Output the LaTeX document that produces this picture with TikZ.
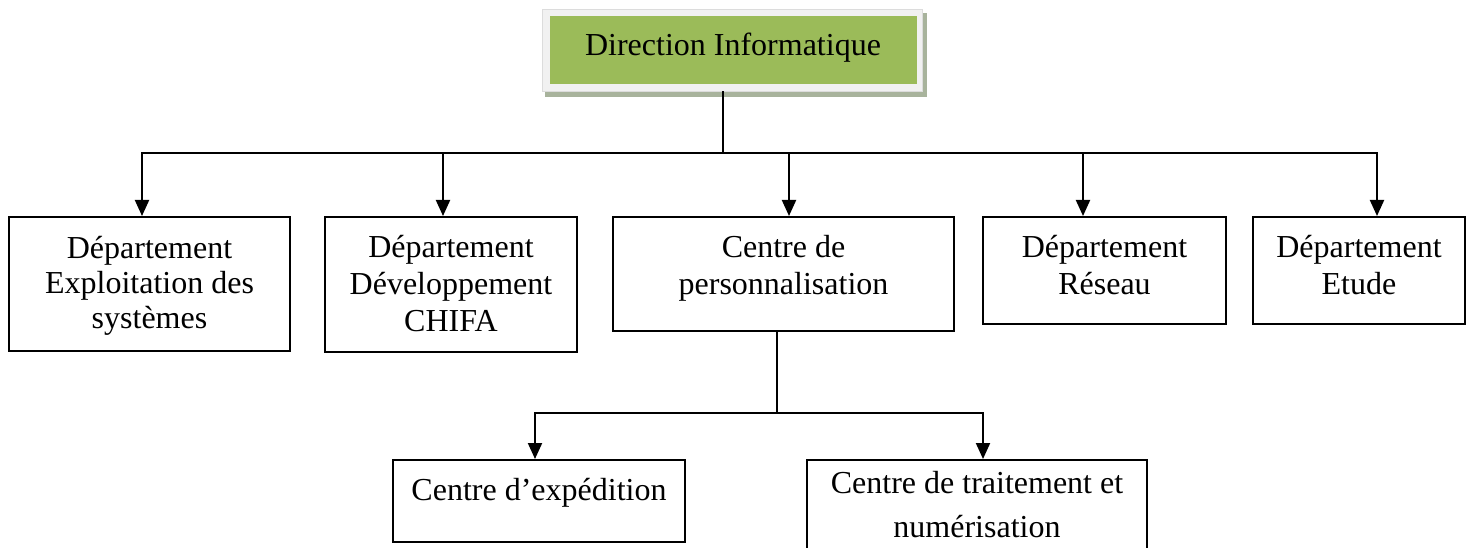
\documentclass[tikz,border=0pt]{standalone}
\usepackage{fontspec}
\setmainfont{Liberation Serif}
\usetikzlibrary{arrows.meta}
\definecolor{headgreen}{HTML}{9BBB59}
\definecolor{headframe}{HTML}{F1F1F1}
\definecolor{headframeedge}{HTML}{DCDCDC}
\definecolor{headshadow}{HTML}{A8B39C}
\begin{document}
\begin{tikzpicture}[x=1pt,y=-1pt,
  unitbox/.style={draw=black, line width=2pt, inner sep=0pt, fill=white},
  label text/.style={anchor=north, inner sep=0pt, align=center,
    font=\fontsize{32}{36}\selectfont},
  link/.style={draw=black, line width=2pt},
  arr/.style={link, -{Triangle[length=16pt,width=14pt]}}]

\clip (0,0) rectangle (1469,548);
\fill[white] (0,0) rectangle (1469,548);

% head of the chart: shadow, light frame, green panel
\node[fill=headshadow, minimum width=382pt, minimum height=84pt, inner sep=0pt] (headsh) at (736,55) {};
\node[fill=headframe, draw=headframeedge, line width=0.6pt, minimum width=380pt, minimum height=82pt, inner sep=0pt] (frame) at (732,50) {};
\node[fill=headgreen, minimum width=367pt, minimum height=68pt, inner sep=0pt] (top) at (733.5,50) {};
\node[label text] (ttop) at (733,33) {Direction Informatique};

% departments
\node[unitbox, minimum width=281pt, minimum height=134pt] (b1) at (149.5,284) {};
\node[unitbox, minimum width=252pt, minimum height=135pt] (b2) at (451,284.5) {};
\node[unitbox, minimum width=341pt, minimum height=114pt] (b3) at (783.5,274) {};
\node[unitbox, minimum width=243pt, minimum height=107pt] (b4) at (1104.5,270.5) {};
\node[unitbox, minimum width=212pt, minimum height=107pt] (b5) at (1359,270.5) {};

\node[label text, font=\fontsize{32}{35}\selectfont] (t1) at (149.5,236) {Département\\Exploitation des\\systèmes};
\node[label text, font=\fontsize{32}{37}\selectfont] (t2) at (451,235) {Département\\Développement\\CHIFA};
\node[label text, font=\fontsize{32}{37}\selectfont] (t3) at (783.5,235) {Centre de\\personnalisation};
\node[label text, font=\fontsize{32}{37}\selectfont] (t4) at (1104.5,235) {Département\\Réseau};
\node[label text, font=\fontsize{32}{37}\selectfont] (t5) at (1359,235) {Département\\Etude};

% sub-centres
\node[unitbox, minimum width=292pt, minimum height=82pt] (b6) at (539,501) {};
\node[unitbox, minimum width=340pt, minimum height=130pt] (b7) at (977,525) {};
\node[label text] (t6) at (539,478) {Centre d’expédition};
\node[label text, font=\fontsize{32}{44}\selectfont] (t7) at (977,471) {Centre de traitement et\\numérisation};

% first level connectors
\coordinate (hub) at (723,153);
\coordinate (a1) at (142,153);
\coordinate (a2) at (443,153);
\coordinate (a3) at (789,153);
\coordinate (a4) at (1083,153);
\coordinate (a5) at (1377,153);
\draw[link] (hub |- frame.south) -- (hub);
\draw[arr] (hub) -- (a1) -- (a1 |- b1.north);
\draw[arr] (hub) -- (a5) -- (a5 |- b5.north);
\draw[arr] (a2) -- (a2 |- b2.north);
\draw[arr] (a3) -- (a3 |- b3.north);
\draw[arr] (a4) -- (a4 |- b4.north);

% second level connectors
\coordinate (hub2) at (777,413);
\coordinate (c1) at (535,413);
\coordinate (c2) at (983,413);
\draw[link] (hub2 |- b3.south) -- (hub2);
\draw[arr] (hub2) -- (c1) -- (c1 |- b6.north);
\draw[arr] (hub2) -- (c2) -- (c2 |- b7.north);
\end{tikzpicture}
\end{document}
